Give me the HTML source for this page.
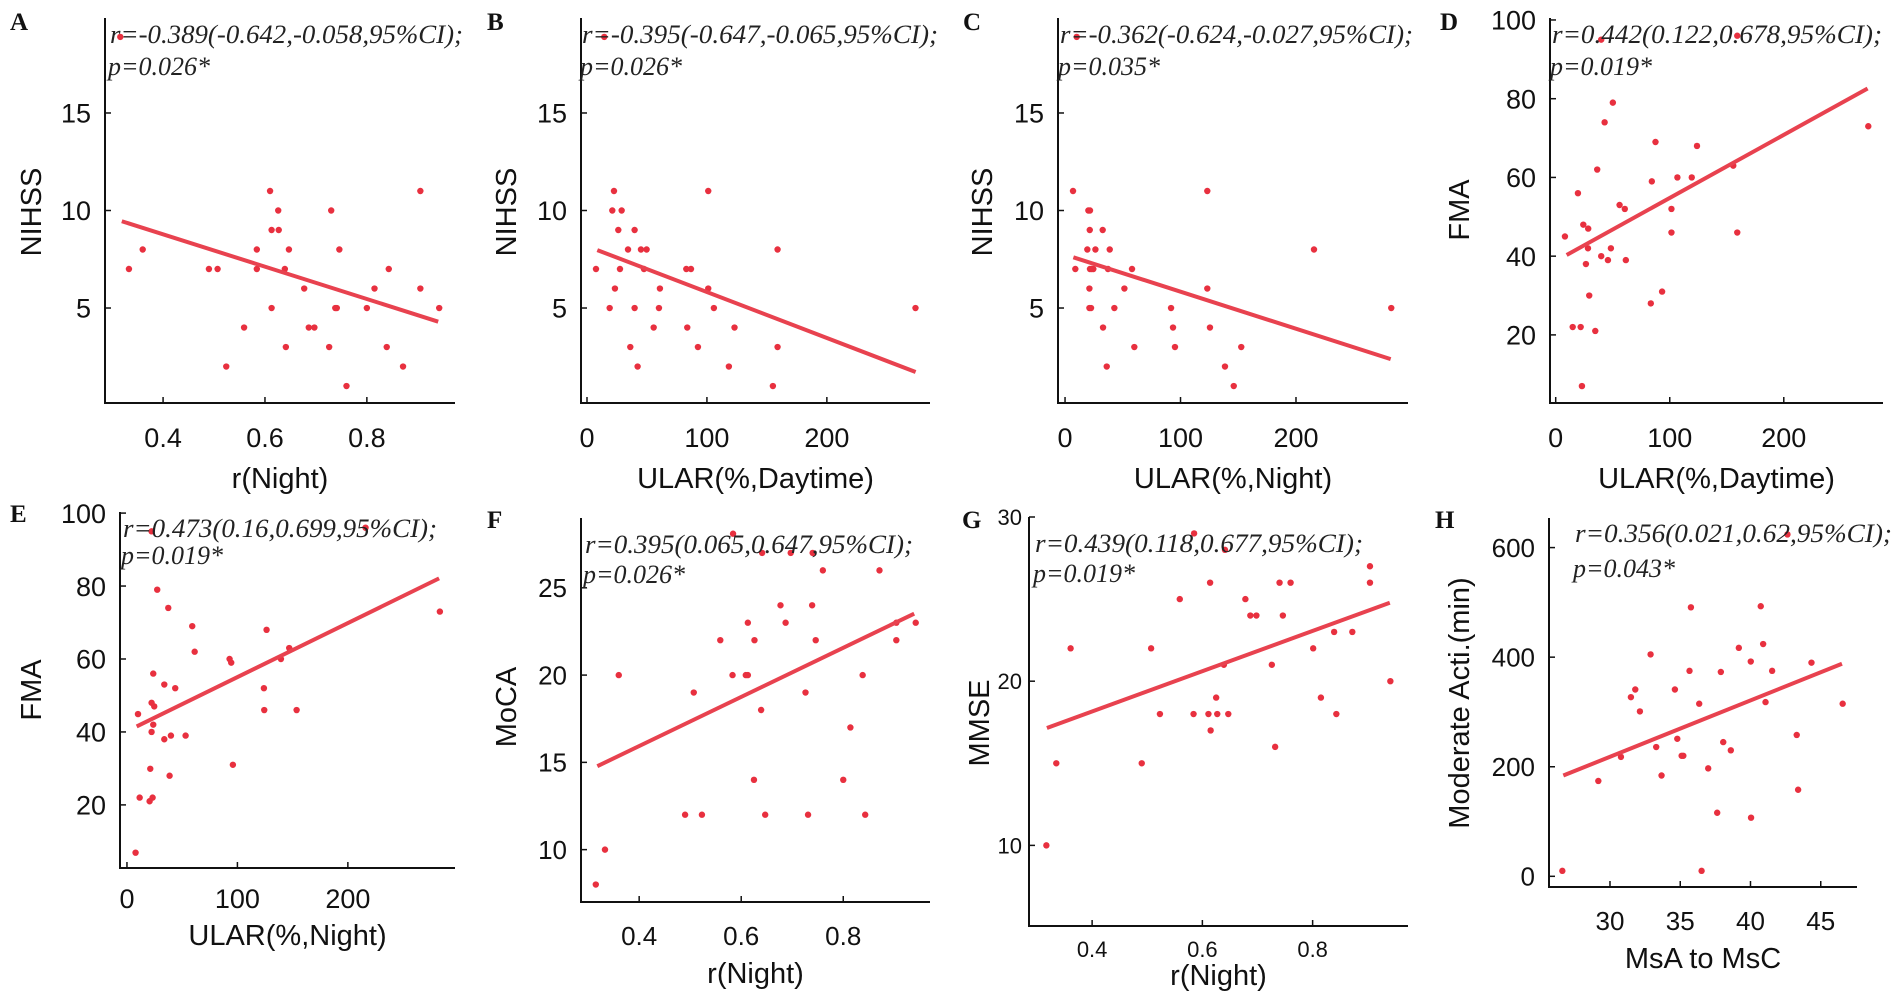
<!DOCTYPE html>
<html><head><meta charset="utf-8">
<style>
html,body{margin:0;padding:0;background:#fff;}
svg{display:block;}
.tk{font-family:"Liberation Sans",Arial,sans-serif;fill:#111;}
.an{font-family:"Liberation Serif","Times New Roman",serif;font-style:italic;fill:#222;font-size:26px;}
.pl{font-family:"Liberation Serif",serif;font-weight:bold;font-size:25px;fill:#111;}
</style></head>
<body>
<svg id="fig" width="1902" height="1004" viewBox="0 0 1902 1004" xmlns="http://www.w3.org/2000/svg"></svg>
<script>
// ---- Data arrays ----
const aX=[0.333,0.360,0.490,0.507,0.524,0.559,0.584,0.584,0.610,0.613,0.613,0.626,0.627,0.639,0.641,0.647,0.677,0.686,0.697,0.726,0.730,0.738,0.741,0.746,0.760,0.800,0.815,0.839,0.843,0.871,0.905,0.905,0.942,0.316];
const aY=[7,8,7,7,2,4,8,7,11,9,5,10,9,7,3,8,6,4,4,3,10,5,5,8,1,5,6,3,7,2,11,6,5,18.9];
const aLine=[[0.319,9.45],[0.940,4.3]];
const bX=[7.5,18.9,21.1,22.5,23.3,26.1,27.5,28.9,34.2,36.1,39.7,39.7,42.2,45,47.5,49.7,55.6,60,60.8,82.8,83.6,86.7,92.5,101.1,101.1,105.8,118.3,123,155,158.9,158.9,14.4,273.9];
const bY=[7,5,10,11,6,9,7,10,8,3,9,5,2,8,7,8,4,5,6,7,4,7,3,11,6,5,2,4,1,8,3,18.9,5];
const bLine=[[8.6,7.97],[274,1.72]];
const cX=[6.9,8.9,10.1,19.3,20.2,21.1,21.1,21.6,21.4,22.5,21.6,23.1,24.5,26.3,32.6,32.9,36.1,37.2,38.7,42.7,51.4,58,60,91.8,93.5,95.2,123.2,123.2,125.5,138.5,146.1,152.6,215.6,282.5];
const cY=[11,7,18.9,8,10,6,5,10,9,5,7,7,7,8,9,4,2,7,8,5,6,7,3,5,4,3,11,6,4,2,1,3,8,5];
const cLine=[[7.2,7.6],[282,2.38]];
const dX=[8.1,14.9,19.5,21.9,23,24.2,26.5,28.3,28.5,29.4,34.7,36.4,39.9,39.9,42.9,45.8,48.4,50.1,56,60.6,61.5,83.4,84.3,87.5,93.3,101.5,101.5,106.7,119.3,123.9,155.7,159.2,159.2,274.1];
const dY=[45,22,56,22,7,48,38,42,47,30,21,62,40,95,74,39,42,79,53,52,39,28,59,69,31,52,46,60,60,68,63,46,96,73];
const dLine=[[9.6,40.3],[273.5,82.6]];
const eX=[7.8,10,11.5,20.5,21.1,22.3,22.3,23.2,23.8,23.8,24.7,22.3,27.4,33.8,33.8,37.4,38.6,39.8,43.7,53.1,59.1,61.3,92.9,94.4,95.9,124,124.3,126.4,139.4,146.9,153.6,216,283.3];
const eY=[6.9,44.9,22,21,29.9,40,48,22,56,42,47,95,79,53,38,74,28,39,52,39,69,62,60,59,31,52,46,68,60,63,46,96,73];
const eLine=[[8.8,41.5],[282.6,82.1]];
const fX=[0.315,0.333,0.360,0.490,0.507,0.523,0.559,0.583,0.584,0.609,0.613,0.613,0.625,0.626,0.639,0.641,0.647,0.677,0.687,0.697,0.726,0.731,0.739,0.740,0.746,0.760,0.800,0.814,0.838,0.843,0.871,0.904,0.904,0.942];
const fY=[8,10,20,12,19,12,22,20,28.1,20,20,23,14,22,18,27,12,24,23,27,19,12,24,27,22,26,14,17,20,12,26,22,23,23];
const fLine=[[0.318,14.78],[0.939,23.52]];
const gX=[0.317,0.335,0.361,0.490,0.507,0.523,0.559,0.584,0.585,0.611,0.614,0.615,0.625,0.627,0.639,0.641,0.647,0.678,0.687,0.698,0.726,0.732,0.740,0.746,0.760,0.801,0.815,0.839,0.843,0.872,0.904,0.904,0.941];
const gY=[10,15,22,15,22,18,25,18,29,18,26,17,19,18,21,28,18,25,24,24,21,16,26,24,26,22,19,23,18,23,27,26,20];
const gLine=[[0.318,17.15],[0.940,24.78]];
const hX=[26.61,29.17,30.78,31.49,31.80,32.13,32.89,33.29,33.67,34.62,34.79,35.10,35.22,35.66,35.76,36.35,36.52,36.99,37.63,37.89,38.06,38.60,39.17,40.02,40.04,40.73,40.90,41.07,41.54,42.63,43.29,43.39,44.34,46.56];
const hY=[10,174,218,327,341,301,405,236,184,341,251,220,220,375,491,315,10,197,116,373,245,230,417,392,107,493,424,318,375,624,258,158,390,315];
const hLine=[[26.68,184],[46.51,388]];
// tick labels
const tickNight=[0.4,0.6,0.8];
const tickUlar=[0,100,200];
const tickNihss=[5,10,15];
const tickFma=[20,40,60,80,100];
const tickMoca=[10,15,20,25];
const tickMmse=[10,20,30];
const tickMsa=[30,35,40,45];
const tickMod=[0,200,400,600];

const NS='http://www.w3.org/2000/svg';
const svg=document.getElementById('fig');
function el(tag,attrs,parent){const e=document.createElementNS(NS,tag);for(const k in attrs)e.setAttribute(k,attrs[k]);(parent||svg).appendChild(e);return e;}

const panels=[
 {id:'a',L:'A',X:aX,Y:aY,line:aLine,px:[105,455],py:[403,18],dx:[0.286,0.973],dy:[0.13,19.87],xt:tickNight,yt:tickNihss,fmt:v=>v.toFixed(1),xl:'r(Night)',yl:'NIHSS',ylx:32,yly:212,fs:27,xtb:447,xlb:488,ann:['r=-0.389(-0.642,-0.058,95%CI);','p=0.026*'],ax:110,aw:353,ab:[43,75],lx:10,lb:30},
 {id:'b',L:'B',X:bX,Y:bY,line:bLine,px:[581,930],py:[403,18],dx:[-5,286],dy:[0.13,19.87],xt:tickUlar,yt:tickNihss,fmt:v=>String(v),xl:'ULAR(%,Daytime)',yl:'NIHSS',ylx:507,yly:212,fs:27,xtb:447,xlb:488,ann:['r=-0.395(-0.647,-0.065,95%CI);','p=0.026*'],ax:582,aw:356,ab:[43,75],lx:487,lb:30},
 {id:'c',L:'C',X:cX,Y:cY,line:cLine,px:[1058,1408],py:[403,18],dx:[-6.1,297],dy:[0.13,19.87],xt:tickUlar,yt:tickNihss,fmt:v=>String(v),xl:'ULAR(%,Night)',yl:'NIHSS',ylx:983,yly:212,fs:27,xtb:447,xlb:488,ann:['r=-0.362(-0.624,-0.027,95%CI);','p=0.035*'],ax:1060,aw:353,ab:[43,75],lx:963,lb:30},
 {id:'d',L:'D',X:dX,Y:dY,line:dLine,px:[1550,1883],py:[403,18],dx:[-5,287],dy:[2.7,100.5],xt:tickUlar,yt:tickFma,fmt:v=>String(v),xl:'ULAR(%,Daytime)',yl:'FMA',ylx:1460,yly:210,fs:27,xtb:447,xlb:488,ann:['r=0.442(0.122,0.678,95%CI);','p=0.019*'],ax:1552,aw:330,ab:[43,75],lx:1440,lb:30},
 {id:'e',L:'E',X:eX,Y:eY,line:eLine,px:[120,455],py:[868,512],dx:[-6.3,297],dy:[2.7,100.3],xt:tickUlar,yt:tickFma,fmt:v=>String(v),xl:'ULAR(%,Night)',yl:'FMA',ylx:32,yly:690,fs:27,xtb:908,xlb:945,ann:['r=0.473(0.16,0.699,95%CI);','p=0.019*'],ax:123,aw:314,ab:[537,564],lx:10,lb:522},
 {id:'f',L:'F',X:fX,Y:fY,line:fLine,px:[581,930],py:[902,518],dx:[0.286,0.97],dy:[7.0,29.0],xt:tickNight,yt:tickMoca,fmt:v=>v.toFixed(1),xl:'r(Night)',yl:'MoCA',ylx:507,yly:707,fs:26,xtb:945,xlb:983,ann:['r=0.395(0.065,0.647,95%CI);','p=0.026*'],ax:585,aw:328,ab:[553,583],lx:487,lb:528},
 {id:'g',L:'G',X:gX,Y:gY,line:gLine,px:[1029,1408],py:[926,517],dx:[0.2855,0.973],dy:[5.09,30],xt:tickNight,yt:tickMmse,fmt:v=>v.toFixed(1),xl:'r(Night)',yl:'MMSE',ylx:980,yly:723,fs:22,xtb:957,xlb:985,ann:['r=0.439(0.118,0.677,95%CI);','p=0.019*'],ax:1035,aw:328,ab:[552,582],lx:962,lb:528},
 {id:'h',L:'H',X:hX,Y:hY,line:hLine,px:[1549,1857],py:[887,518],dx:[25.66,47.58],dy:[-19.5,654],xt:tickMsa,yt:tickMod,fmt:v=>String(v),xl:'MsA to MsC',yl:'Moderate Acti.(min)',ylx:1460,yly:703,fs:26,xtb:930,xlb:968,ann:['r=0.356(0.021,0.62,95%CI);','p=0.043*'],ax:1575,aw:317,ab:[542,577],lx:1435,lb:528}
];

panels.forEach(p=>{
 const g=el('g',{});
 
 
 const sx=v=>p.px[0]+(v-p.dx[0])/(p.dx[1]-p.dx[0])*(p.px[1]-p.px[0]);
 const sy=v=>p.py[0]+(v-p.dy[0])/(p.dy[1]-p.dy[0])*(p.py[1]-p.py[0]);
 // axes
 const ya=el('line',{x1:p.px[0],y1:p.py[1],x2:p.px[0],y2:p.py[0]+1,stroke:'#111','stroke-width':2},g);
 
 
 const xa=el('line',{x1:p.px[0]-1,y1:p.py[0],x2:p.px[1],y2:p.py[0],stroke:'#111','stroke-width':2},g);
 
 
 p.xt.forEach(v=>{
  const x=sx(v);
  el('line',{x1:x,y1:p.py[0],x2:x,y2:p.py[0]-6,stroke:'#111','stroke-width':1.5},g);
  const t=el('text',{x:x,y:p.xtb,'text-anchor':'middle','font-size':p.fs,class:'tk'},g);
  t.textContent=p.fmt(v);
  
  
 });
 p.yt.forEach(v=>{
  const y=sy(v);
  el('line',{x1:p.px[0],y1:y,x2:p.px[0]+6,y2:y,stroke:'#111','stroke-width':1.5},g);
  const t=el('text',{x:p.px[0]-(p.id==='g'?7:14),y:y+p.fs*0.36,'text-anchor':'end','font-size':p.fs,class:'tk'},g);
  t.textContent=String(v);
  
  
 });
 const xl=el('text',{x:(p.px[0]+p.px[1])/2,y:p.xlb,'text-anchor':'middle','font-size':29,class:'tk'},g);
 xl.textContent=p.xl;
 
 
 const yl=el('text',{x:p.ylx,y:p.yly,'text-anchor':'middle','font-size':29,class:'tk',transform:'rotate(-90 '+p.ylx+' '+p.yly+')','dominant-baseline':'central'},g);
 yl.textContent=p.yl;
 
 
 // points
 p.X.forEach((v,i)=>{
  const c=el('circle',{cx:sx(v),cy:sy(p.Y[i]),r:3.2,fill:'#e8303f'},g);
  
  
 });
 const ln=el('line',{x1:sx(p.line[0][0]),y1:sy(p.line[0][1]),x2:sx(p.line[1][0]),y2:sy(p.line[1][1]),stroke:'#e8424f','stroke-width':4},g);
 
 
 const a1=el('text',{x:p.ax,y:p.ab[0],class:'an',textLength:p.aw,lengthAdjust:'spacingAndGlyphs'},g);
 a1.textContent=p.ann[0];
 
 
 const a2=el('text',{x:p.ax-2,y:p.ab[1],class:'an'},g);
 a2.textContent=p.ann[1];
 
 
 const lb=el('text',{x:p.lx,y:p.lb,class:'pl'},g);
 lb.textContent=p.L;
 
 
});
</script>
</body></html>
